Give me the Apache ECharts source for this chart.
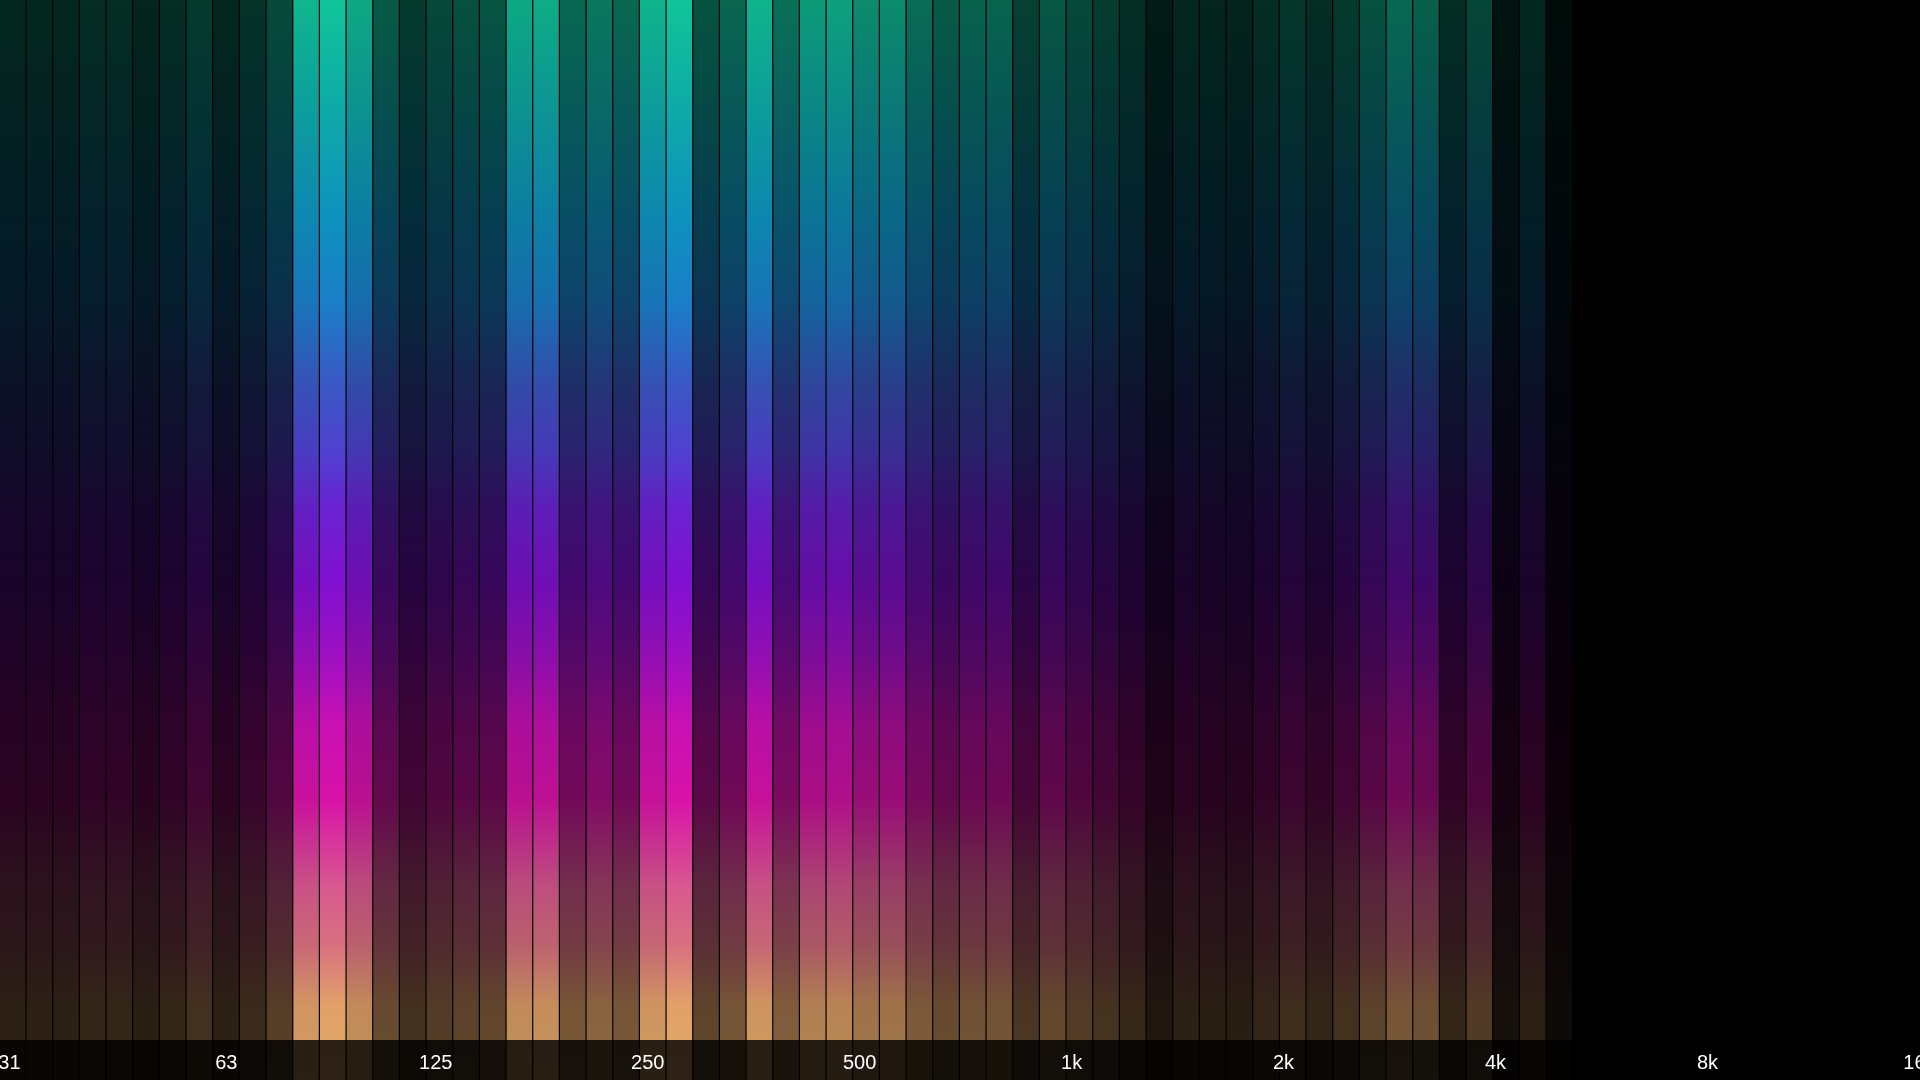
<!DOCTYPE html>
<html>
<head>
<meta charset="utf-8">
<style>
  html, body { margin: 0; padding: 0; background: #000; }
  #chart { width: 1920px; height: 1080px; }
</style>
<script src="https://cdn.jsdelivr.net/npm/echarts@6/dist/echarts.min.js"></script>
</head>
<body>
<div id="chart"></div>
<script>
// Band indices (1/8-octave bands from ~30 Hz to ~16 kHz)
const bands = Array.from({length: 72}, (_, i) => 'b' + i);
// Level of each band (0..1) (drives bar brightness)
const levels = [
  0.20, 0.20, 0.20, 0.23, 0.23, 0.19, 0.23, 0.30, 0.20, 0.26,
  0.38, 0.93, 1.00, 0.86, 0.46, 0.30, 0.37, 0.41, 0.43, 0.86,
  0.88, 0.53, 0.61, 0.53, 0.92, 1.00, 0.42, 0.52, 0.92, 0.57,
  0.79, 0.82, 0.71, 0.71, 0.55, 0.46, 0.50, 0.51, 0.33, 0.44,
  0.37, 0.31, 0.24, 0.14, 0.20, 0.19, 0.18, 0.23, 0.28, 0.23,
  0.30, 0.41, 0.53, 0.49, 0.23, 0.36, 0.10, 0.20, 0.06, 0,
  0, 0, 0, 0, 0, 0, 0, 0, 0, 0, 0, 0
];
// Frequency scale labels
const tickFreqs = [31, 63, 125, 250, 500, 1000, 2000, 4000, 8000, 16000];
const tickLabels = ['31', '63', '125', '250', '500', '1k', '2k', '4k', '8k', '16k'];
const minFreq = 30, maxFreq = 16000;

const gradient = new echarts.graphic.LinearGradient(0, 0, 0, 1, [
  { offset: 0.00, color: '#10c498' },
  { offset: 0.10, color: '#0eaaa8' },
  { offset: 0.20, color: '#0e92be' },
  { offset: 0.28, color: '#1a7ec8' },
  { offset: 0.36, color: '#3c56c4' },
  { offset: 0.42, color: '#5040d0' },
  { offset: 0.47, color: '#6a22d2' },
  { offset: 0.54, color: '#8010d0' },
  { offset: 0.61, color: '#a010c2' },
  { offset: 0.67, color: '#c810b4' },
  { offset: 0.74, color: '#d812a8' },
  { offset: 0.82, color: '#d85890' },
  { offset: 0.875, color: '#d87080' },
  { offset: 0.93, color: '#e0a068' },
  { offset: 1.00, color: '#e0aa68' }
]);

const barData = levels.map(v => ({ value: 1, itemStyle: { opacity: v } }));
const log2 = v => Math.log2(v);

const chart = echarts.init(document.getElementById('chart'), null, { renderer: 'canvas' });
chart.setOption({
  backgroundColor: '#000',
  animation: false,
  grid: { left: -0.6, right: 0.6, top: 0, bottom: 0, containLabel: false, outerBoundsMode: 'none' },
  xAxis: [
    {
      type: 'category', data: bands, boundaryGap: true,
      axisLine: { show: false }, axisTick: { show: false },
      axisLabel: { show: false }, splitLine: { show: false }
    },
    {
      type: 'value', position: 'bottom', min: log2(minFreq), max: log2(maxFreq),
      z: 100,
      axisLine: { show: false }, axisTick: { show: false }, splitLine: { show: false },
      axisLabel: {
        inside: true,
        customValues: tickFreqs.map(log2),
        showMinLabel: true, showMaxLabel: true,
        hideOverlap: false,
        margin: 17,
        verticalAlign: 'middle',
        color: '#ffffff',
        fontSize: 20,
        fontFamily: '"Liberation Sans", Arial, sans-serif',
        formatter: function (val) {
          let best = 0, d = Infinity;
          tickFreqs.forEach((f, i) => {
            const dd = Math.abs(log2(f) - val);
            if (dd < d) { d = dd; best = i; }
          });
          return tickLabels[best];
        }
      }
    }
  ],
  yAxis: {
    type: 'value', min: 0, max: 1, show: false,
    splitLine: { show: false }
  },
  graphic: {
    elements: [{
      type: 'rect', z: 50, silent: true,
      shape: { x: 0, y: 1040, width: 1920, height: 40 },
      style: { fill: 'rgba(0,0,0,0.8)' }
    }]
  },
  series: [{
    type: 'bar',
    xAxisIndex: 0,
    data: barData,
    barCategoryGap: '4.5%',
    itemStyle: { color: gradient },
    emphasis: { disabled: true }
  }]
});
</script>
</body>
</html>
